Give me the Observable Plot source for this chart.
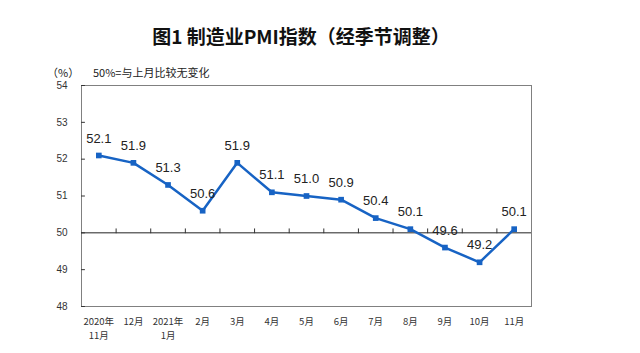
<!DOCTYPE html>
<html><head><meta charset="utf-8">
<script src="https://cdn.jsdelivr.net/npm/d3@7"></script>
<script src="https://cdn.jsdelivr.net/npm/@observablehq/plot@0.6"></script>
<style>
body{margin:0;background:#fff;}
#wrap{position:relative;width:640px;height:353px;overflow:hidden;}
#title{position:absolute;left:0;width:602px;top:22px;text-align:center;font-family:"Noto Sans CJK SC";font-weight:bold;font-size:19px;line-height:28px;color:#111;white-space:nowrap;}
.sub{position:absolute;top:64px;font-family:"Noto Sans CJK SC";font-size:11px;line-height:16px;color:#222;white-space:nowrap;}
#chart{position:absolute;left:0;top:0;}
</style></head>
<body>
<div id="wrap">
<div id="chart"></div>
<div id="title">图1 制造业PMI指数（经季节调整）</div>
<div class="sub" style="left:47px">（%）</div>
<div class="sub" style="left:93px">50%=与上月比较无变化</div>
</div>
<script>
const months = ["2020年\n11月","12月","2021年\n1月","2月","3月","4月","5月","6月","7月","8月","9月","10月","11月"];
const pmi = [52.1,51.9,51.3,50.6,51.9,51.1,51.0,50.9,50.4,50.1,49.6,49.2,50.1];
const yTicks = [48,49,50,51,52,53,54];
const baseline = 50;

const blue = "#1763C4";
const data = months.map((m,i)=>({i, month:m, value:pmi[i]}));
const bounds = d3.range(1, months.length).map(k => k - 0.5);
const tickShape = {draw(ctx, l){ ctx.moveTo(0,0); ctx.lineTo(0,-l); }};

const chart = Plot.plot({
  width:640, height:353,
  marginTop:85, marginBottom:47, marginLeft:81, marginRight:109,
  style:{fontFamily:"Liberation Sans, Arial, sans-serif", background:"transparent"},
  x:{domain:[-0.5, months.length-0.5], axis:null},
  y:{domain:[d3.min(yTicks), d3.max(yTicks)], axis:null},
  marks:[
    Plot.frame({stroke:"#808080"}),
    Plot.ruleY([baseline],{stroke:"#222", strokeWidth:1}),
    Plot.vector(bounds,{x:d=>d, y:baseline, length:4, rotate:0, anchor:"start", shape:tickShape, stroke:"#333", strokeWidth:1}),
    Plot.vector(yTicks,{y:d=>d, frameAnchor:"left", rotate:90, length:3, anchor:"start", shape:tickShape, stroke:"#333", strokeWidth:1}),
    Plot.axisY({ticks:yTicks, tickFormat:d3.format("d"), tickSize:0, tickPadding:14, fontSize:10, fill:"#333", label:null}),
    Plot.axisX({ticks:d3.range(months.length), tickFormat:i=>months[i], tickSize:0, tickPadding:8, fontSize:9.5, lineHeight:1.5, fill:"#333", fontFamily:"Noto Sans CJK SC", label:null}),
    Plot.line(data,{x:"i", y:"value", stroke:blue, strokeWidth:2.5}),
    Plot.dot(data,{x:"i", y:"value", symbol:"square", r:3.2, fill:blue, stroke:null}),
    Plot.text(data,{x:"i", y:"value", text:d=>d.value.toFixed(1), dy:-17, fontSize:13, fill:"#222"})
  ]
});
document.getElementById("chart").appendChild(chart);
</script>
</body></html>
